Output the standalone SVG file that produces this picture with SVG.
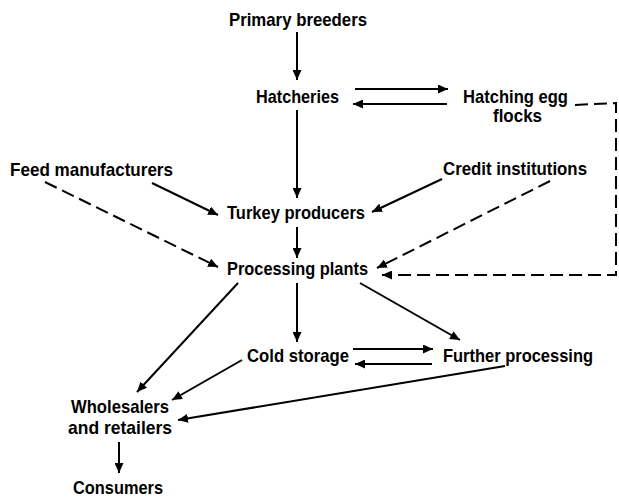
<svg xmlns="http://www.w3.org/2000/svg" width="619" height="499" viewBox="0 0 619 499">
<style>
text{font-family:"Liberation Sans Narrow","Liberation Sans",Arial,sans-serif;font-weight:bold;font-size:19px;fill:#000}
.c{fill:none;stroke:#000;stroke-width:2;marker-end:url(#ah)}
.d{stroke-dasharray:13 6}
</style>
<defs>
<marker id="ah" markerUnits="userSpaceOnUse" markerWidth="11" markerHeight="9" refX="10" refY="4.5" orient="auto">
<path d="M0,0 L10,4.5 L0,9 z" fill="#000"/>
</marker>
</defs>
<rect width="619" height="499" fill="#fff"/>
<g id="connectors">
<path class="c" d="M297,32 L297,80"/>
<path class="c" d="M355,89 L448,89"/>
<path class="c" d="M447,104 L353,104"/>
<path class="c" d="M297,110 L297,198"/>
<path class="c" d="M152,183 L218,215"/>
<path class="c" d="M442,179 L372,212"/>
<path class="c" d="M297,227 L297,258"/>
<path class="c d" d="M45,182 L218,267"/>
<path class="c d" d="M550,181 L377,268"/>
<path class="c d" d="M575,105 L616,103 L616,275 L382,275"/>
<path class="c" d="M238,283 L137,392"/>
<path class="c" d="M297,283 L297,342"/>
<path class="c" d="M360,283 L460,340"/>
<path class="c" d="M353,349 L433,349"/>
<path class="c" d="M432,364 L355,364"/>
<path class="c" d="M242,360 L172,400"/>
<path class="c" d="M505,366 L178,420"/>
<path class="c" d="M119,442 L119,473"/>
</g>
<g id="primary-breeders"><text x="229" y="26" textLength="138" lengthAdjust="spacingAndGlyphs">Primary breeders</text></g>
<g id="hatcheries"><text x="256" y="103" textLength="83" lengthAdjust="spacingAndGlyphs">Hatcheries</text></g>
<g id="hatching-egg-flocks"><text x="463" y="103" textLength="105" lengthAdjust="spacingAndGlyphs">Hatching egg</text><text x="493" y="122" textLength="49" lengthAdjust="spacingAndGlyphs">flocks</text></g>
<g id="feed-manufacturers"><text x="10" y="176" textLength="163" lengthAdjust="spacingAndGlyphs">Feed manufacturers</text></g>
<g id="credit-institutions"><text x="443" y="175" textLength="144" lengthAdjust="spacingAndGlyphs">Credit institutions</text></g>
<g id="turkey-producers"><text x="227" y="219" textLength="138" lengthAdjust="spacingAndGlyphs">Turkey producers</text></g>
<g id="processing-plants"><text x="227" y="275" textLength="141" lengthAdjust="spacingAndGlyphs">Processing plants</text></g>
<g id="cold-storage"><text x="247" y="362" textLength="102" lengthAdjust="spacingAndGlyphs">Cold storage</text></g>
<g id="further-processing"><text x="443" y="362" textLength="150" lengthAdjust="spacingAndGlyphs">Further processing</text></g>
<g id="wholesalers-retailers"><text x="71" y="413" textLength="98" lengthAdjust="spacingAndGlyphs">Wholesalers</text><text x="68" y="434" textLength="104" lengthAdjust="spacingAndGlyphs">and retailers</text></g>
<g id="consumers"><text x="73" y="494" textLength="90" lengthAdjust="spacingAndGlyphs">Consumers</text></g>
</svg>
